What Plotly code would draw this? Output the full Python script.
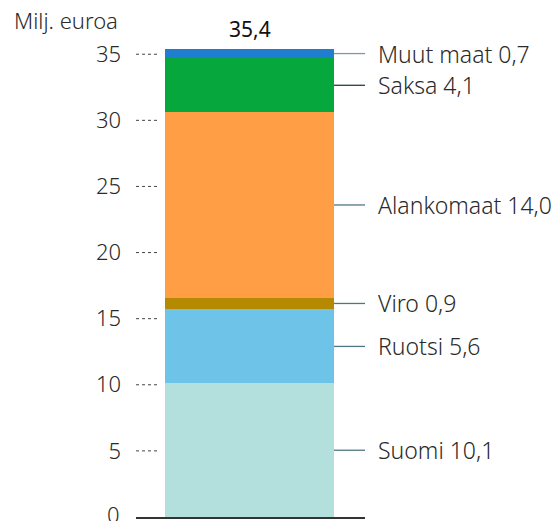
import plotly.graph_objects as go

categories = ["Suomi", "Ruotsi", "Viro", "Alankomaat", "Saksa", "Muut maat"]
values = [10.1, 5.6, 0.9, 14.0, 4.1, 0.7]
labels = ["Suomi 10,1", "Ruotsi 5,6", "Viro 0,9", "Alankomaat 14,0", "Saksa 4,1", "Muut maat 0,7"]
colors = ["#b3e0dc", "#6ec4e8", "#b58a00", "#ff9e45", "#06a73c", "#1f7ecf"]
line_colors = ["#4f7682", "#4f7682", "#4f7682", "#4f7682", "#1e3f4a", "#7c9aa3"]
total_label = "35,4"
total = 35.4
tick_vals = [0, 5, 10, 15, 20, 25, 30, 35]
y_title = "Milj. euroa"

FONT = "Noto Sans"
TXT = "#2a2a2a"
W = 300

x_left, x_right = -0.6716, 0.6834

fig = go.Figure()
for c, v, col in zip(categories, values, colors):
    fig.add_trace(go.Bar(x=[0], y=[v], name=c, marker=dict(color=col, line=dict(width=0)),
                         width=1, hoverinfo="skip"))

shapes = []
annotations = []
for t in tick_vals[1:]:
    shapes.append(dict(type="line", xref="x", yref="y", x0=x_left, x1=-0.53, y0=t, y1=t,
                       line=dict(color="#444444", width=1, dash="dot")))

# bottom tick label (drawn as annotation so it is not dropped at the range edge)
annotations.append(dict(x=x_left, y=tick_vals[0], xref="x", yref="y", text=str(tick_vals[0]),
                        showarrow=False, xanchor="right", yanchor="middle", xshift=-14, yshift=3,
                        font=dict(family=FONT, size=22, color=TXT, weight=W)))

cum = 0
for v, lab, lc in zip(values, labels, line_colors):
    mid = cum + v / 2
    cum += v
    shapes.append(dict(type="line", xref="x", yref="y", x0=0.5, x1=x_right, y0=mid, y1=mid,
                       line=dict(color=lc, width=1.3)))
    annotations.append(dict(x=x_right, y=mid, xref="x", yref="y", text=lab, showarrow=False,
                            xanchor="left", yanchor="middle", xshift=11,
                            font=dict(family=FONT, size=23, color=TXT, weight=W)))

annotations.append(dict(x=0, y=total, xref="x", yref="y", text=total_label, showarrow=False,
                        xanchor="center", yanchor="bottom", yshift=4,
                        font=dict(family=FONT, size=21, color="#111111")))
annotations.append(dict(x=(12 - 136) / 229, y=1.0, xref="paper", yref="paper", text=y_title,
                        showarrow=False, xanchor="left", yanchor="middle", yshift=21,
                        font=dict(family=FONT, size=22, color=TXT, weight=W)))

fig.update_layout(
    barmode="stack",
    width=555, height=521,
    margin=dict(l=136, r=190, t=41, b=4),
    plot_bgcolor="white", paper_bgcolor="white",
    showlegend=False,
    shapes=shapes,
    annotations=annotations,
    xaxis=dict(range=[x_left, x_right], showticklabels=False, showgrid=False, zeroline=False,
               showline=True, linecolor="#333333", linewidth=2, ticks=""),
    yaxis=dict(range=[0, 36], tickvals=tick_vals[1:], ticktext=[str(t) for t in tick_vals[1:]],
               showgrid=False, zeroline=False, showline=False, ticks="",
               ticklabelstandoff=14,
               tickfont=dict(family=FONT, size=22, color=TXT, weight=W)),
)
fig.update_traces(cliponaxis=False)

fig.write_html("out.html", config={"displayModeBar": False},
               post_script="document.body.style.margin='0';document.body.style.overflow='hidden';")
